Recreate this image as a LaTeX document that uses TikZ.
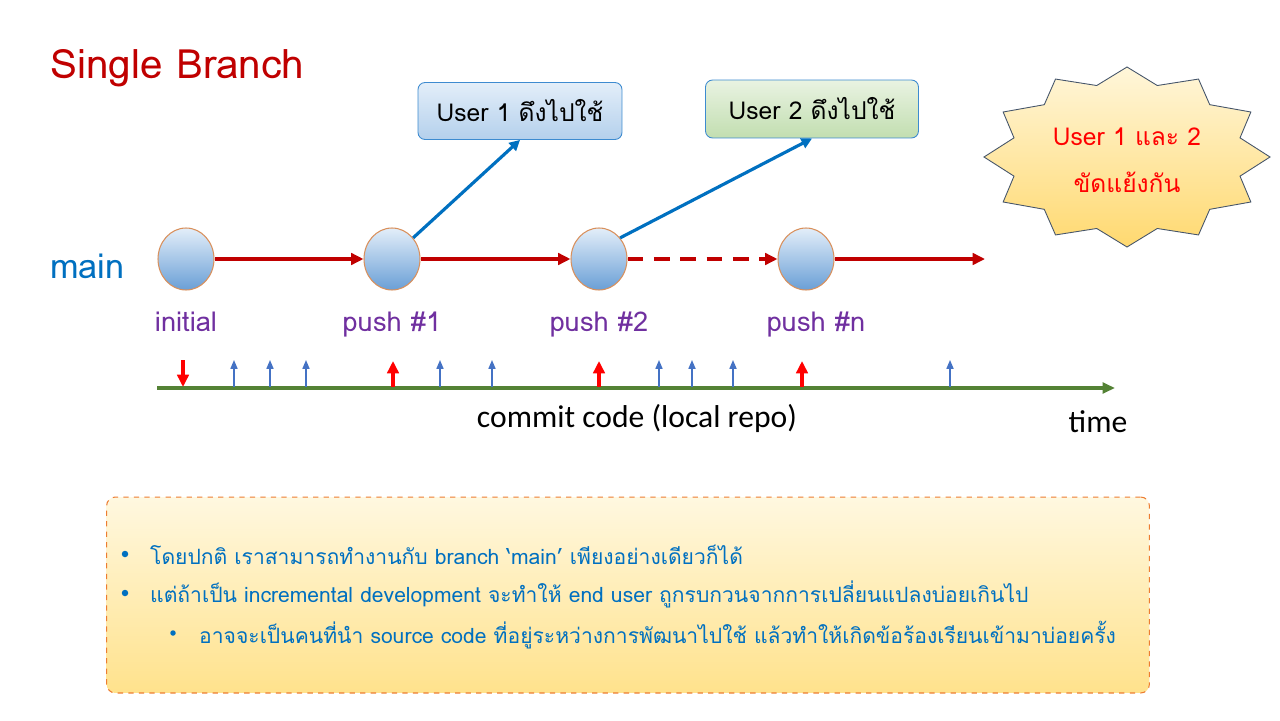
\documentclass[tikz,border=0pt]{standalone}
\usepackage{fontspec}
\setmainfont{Carlito}
\newfontfamily\thaifont[Script=Thai]{Loma}
\usetikzlibrary{positioning, arrows.meta, shapes.geometric}

\definecolor{cred}{HTML}{C00000}
\definecolor{cblue}{HTML}{0070C0}
\definecolor{ctick}{HTML}{4472C4}
\definecolor{cpurple}{HTML}{7030A0}
\definecolor{cgreen}{HTML}{548235}
\definecolor{corange}{HTML}{ED7D31}
\definecolor{cborder}{HTML}{D9905C}
\definecolor{ctop}{HTML}{E3EEF9}
\definecolor{cbot}{HTML}{6A9FD6}
\definecolor{bluetop}{HTML}{E3EEF9}
\definecolor{bluebot}{HTML}{B4D0EC}
\definecolor{greentop}{HTML}{E9F3E2}
\definecolor{greenbot}{HTML}{C2DEB0}
\definecolor{boxline}{HTML}{3D8BD0}
\definecolor{startop}{HTML}{FFF6DA}
\definecolor{starbot}{HTML}{FFD970}
\definecolor{starline}{HTML}{44546A}
\definecolor{notetop}{HTML}{FFF8E0}
\definecolor{notebot}{HTML}{FFE28C}

\begin{document}
\begin{tikzpicture}[x=0.02cm, y=-0.02cm,
		commit/.style={ellipse, draw=cborder, line width=0.6pt, top color=ctop, bottom color=cbot, minimum width=1.12cm, minimum height=1.24cm, inner sep=0pt},
		branch/.style={-{Triangle[length=7pt, width=6.5pt]}, line width=1.8pt, draw=cred},
		pull/.style={-{Triangle[length=6pt, width=6pt]}, line width=1.8pt, draw=cblue},
		callout/.style={draw=boxline, line width=0.5pt, rounded corners=4pt, font=\thaifont\fontsize{14}{17}\selectfont},
		lbl/.style={text=cpurple, font=\thaifont\fontsize{15.5}{18}\selectfont},
		pushtick/.style={-{Triangle[length=7pt, width=6.5pt]}, line width=2.2pt, draw=red},
		worktick/.style={-{Triangle[length=5pt, width=4pt]}, line width=0.8pt, draw=ctick},
		notetext/.style={anchor=west, text=cblue, font=\thaifont\fontsize{12}{15}\selectfont},
		dot/.style={circle, fill=cblue, inner sep=0pt, minimum size=0.13cm}
		]
		\useasboundingbox[fill=white] (0,0) rectangle (1280,720);
		% Title and branch name
		\node[anchor=west, text=cred, font=\thaifont\fontsize{23}{28}\selectfont] (title) at (44,68) {Single Branch};
		\node[anchor=west, text=cblue, font=\thaifont\fontsize{19.5}{24}\selectfont] (main) at (44,266) {main};
		% Commits on main
		\foreach \i/\x/\t in {1/186/initial, 2/392/push \#1, 3/599/push \#2} {
			\node[commit] (c\i) at (\x,259) {};
			\node[lbl, below=0.3cm of c\i] (l\i) {\t};
		}
		\node[commit] (c4) at (806,259) {};
		\node[lbl, below=0.3cm of c4, xshift=0.2cm] (l4) {push \#n};
		\coordinate (cend) at (985,259);
		\draw[branch] (c1) -- (c2);
		\draw[branch] (c2) -- (c3);
		\draw[branch, dash pattern=on 9pt off 6pt] (c3) -- (c4);
		\draw[branch] (c4) -- (cend);
		% Users pulling from main
		\node[callout, top color=bluetop, bottom color=bluebot, minimum width=4.08cm, minimum height=1.14cm] (user1) at (520,111) {User 1 ดึงไปใช้};
		\node[callout, top color=greentop, bottom color=greenbot, minimum width=4.26cm, minimum height=1.16cm] (user2) at (812,109) {User 2 ดึงไปใช้};
		\draw[pull] (c2.45) -- (user1.south);
		\draw[pull] (c3.45) -- (user2.south);
		% Conflict burst
		\path[draw=starline, line width=0.5pt, top color=startop, bottom color=starbot]
			(1127+143,157) \foreach \a in {0,30,...,330} {
				-- ({1127+117*cos(\a+15)}, {157-74*sin(\a+15)})
				-- ({1127+143*cos(\a+30)}, {157-90*sin(\a+30)})
			} -- cycle;
		\node[align=center, text=red, font=\thaifont\fontsize{14}{27}\selectfont] (clash) at (1127,160) {User 1 และ 2\\ขัดแย้งกัน};
		% Time axis with commits
		\coordinate (t0) at (157,388);
		\coordinate (t1) at (1115,388);
		\draw[-{Triangle[length=7pt, width=6pt]}, line width=2.2pt, draw=cgreen] (t0) -- (t1);
		\draw[pushtick] (183,360) -- (183,387);
		\foreach \x in {393,599,802} {
			\draw[pushtick] (\x,387) -- (\x,361);
		}
		\foreach \x in {234,270,306,440,492,659,692,733,950} {
			\draw[worktick] (\x,387) -- (\x,360);
		}
		\node[font=\fontsize{18}{22}\selectfont] (commit) at (637,418) {commit code (local repo)};
		\node[font=\fontsize{18}{22}\selectfont] (time) at (1098,422) {time};
		% Notes
		\node[draw=corange, dashed, line width=0.6pt, rounded corners=5pt, top color=notetop, bottom color=notebot, minimum width=20.86cm, minimum height=3.92cm] (note) at (628,595) {};
		\node[dot] (b1) at (125,554) {};
		\node[notetext] (n1) at (144,555) {โดยปกติ เราสามารถทำงานกับ branch ‘main’ เพียงอย่างเดียวก็ได้};
		\node[dot] (b2) at (125,593) {};
		\node[notetext] (n2) at (144,594) {แต่ถ้าเป็น incremental development จะทำให้ end user ถูกรบกวนจากการเปลี่ยนแปลงบ่อยเกินไป};
		\node[dot, minimum size=0.11cm] (b3) at (173,633) {};
		\node[notetext] (n3) at (193,635) {อาจจะเป็นคนที่นำ source code ที่อยู่ระหว่างการพัฒนาไปใช้ แล้วทำให้เกิดข้อร้องเรียนเข้ามาบ่อยครั้ง};
	\end{tikzpicture}
\end{document}
